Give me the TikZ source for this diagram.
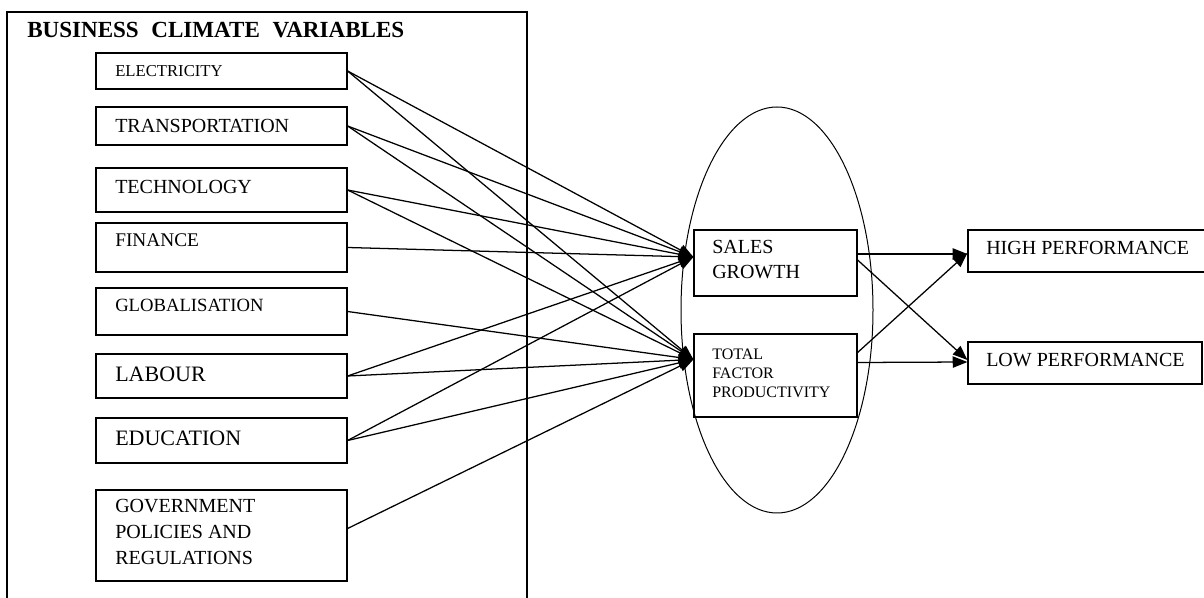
\documentclass[tikz,border=0pt]{standalone}
\usepackage{fontspec}
\setmainfont{Liberation Serif}
\usetikzlibrary{arrows.meta}
\usetikzlibrary{fit}
\usetikzlibrary{calc}

\begin{document}
\begin{tikzpicture}[x=0.75pt,y=0.75pt,yscale=-1,xscale=1,
  box/.style={draw, line width=0.9pt, inner sep=0pt},
  lbl/.style={anchor=base west, inner sep=0pt, align=left},
  link/.style={line width=0.95pt, -{Triangle[length=11pt,width=8.5pt]}}]
  \useasboundingbox (0,0) rectangle (1204,598); %page is 1204 x 598, frame runs off the bottom

  %Shape: Frame
  \draw [line width=0.9pt] (7,610) -- (7,12) -- (527,12) -- (527,610);
  % Text Node
  \node [lbl, font=\bfseries\fontsize{17.3}{20}\selectfont] (title) at (27,38) {BUSINESS\hspace{9.5pt}CLIMATE\hspace{9.5pt}VARIABLES};

  %Shape: Rectangle
  \node [box, fit={(96,53) (347,89)}] (elec) {};
  \node [box, fit={(96,107) (347,145)}] (trans) {};
  \node [box, fit={(96,168) (347,212)}] (tech) {};
  \node [box, fit={(96,223) (347,272)}] (fin) {};
  \node [box, fit={(96,288) (347,335)}] (glob) {};
  \node [box, fit={(96,354) (347,398)}] (labour) {};
  \node [box, fit={(96,418) (347,463)}] (edu) {};
  \node [box, fit={(96,490) (347,581)}] (gov) {};

  % Text Node (multi-line ones sit on their last baseline)
  \node [lbl, font=\fontsize{12.5}{15}\selectfont] (elec-t) at (115,77) {ELECTRICITY};
  \node [lbl, font=\fontsize{15}{18}\selectfont] (trans-t) at (115,133) {TRANSPORTATION};
  \node [lbl, font=\fontsize{15}{18}\selectfont] (tech-t) at (115,194) {TECHNOLOGY};
  \node [lbl, font=\fontsize{14.5}{18}\selectfont] (fin-t) at (115,247) {FINANCE};
  \node [lbl, font=\fontsize{14}{18}\selectfont] (glob-t) at (115,312) {GLOBALISATION};
  \node [lbl, font=\fontsize{16.5}{20}\selectfont] (labour-t) at (115,382) {LABOUR};
  \node [lbl, font=\fontsize{16.5}{20}\selectfont] (edu-t) at (115,446) {EDUCATION};
  \node [lbl, font=\fontsize{15}{19.5}\selectfont] (gov-t) at (115,565) {GOVERNMENT\\POLICIES AND\\REGULATIONS};

  %Shape: Ellipse
  \draw [line width=0.75pt] (777,310) ellipse (96 and 203);

  %Shape: Rectangle
  \node [box, fit={(694,230) (857,296)}] (sales) {};
  \node [box, fit={(694,334) (857,417)}] (tfp) {};
  \node [box, fit={(968,230) (1214,272)}] (high) {};
  \node [box, fit={(968,342) (1202,384)}] (low) {};

  % Text Node
  \node [lbl, font=\fontsize{15}{18.75}\selectfont] (sales-t) at (712,279) {SALES\\GROWTH};
  \node [lbl, font=\fontsize{12}{14.6}\selectfont] (tfp-t) at (712,398) {TOTAL\\FACTOR\\PRODUCTIVITY};
  \node [lbl, font=\fontsize{15}{18}\selectfont] (high-t) at (986,255) {HIGH PERFORMANCE};
  \node [lbl, font=\fontsize{15}{18}\selectfont] (low-t) at (986,367) {LOW PERFORMANCE};

  \coordinate (sg-in) at ($(sales.west)+(0,-6)$);
  \coordinate (tfp-in) at ($(tfp.west)+(0,-16)$);

  %Straight Lines
  \draw [link] (elec.east) -- (sg-in);
  \draw [link] (elec.east) -- (tfp-in);
  \draw [link] (trans.east) -- (sg-in);
  \draw [link] (trans.east) -- (tfp-in);
  \draw [link] (tech.east) -- (sg-in);
  \draw [link] (tech.east) -- (tfp-in);
  \draw [link] (fin.east) -- (sg-in);
  \draw [link] (glob.east) -- (tfp-in);
  \draw [link] (labour.east) -- (sg-in);
  \draw [link] (labour.east) -- (tfp-in);
  \draw [link] (edu.east) -- (sg-in);
  \draw [link] (edu.east) -- (tfp-in);
  \draw [link] ($(gov.east)+(0,-7)$) -- (tfp-in);

  %Straight Lines
  \draw [link] ($(sales.east)+(0,-9)$) -- ($(high.west)+(0,3)$);
  \draw [link] ($(sales.east)+(0,-3)$) -- ($(low.west)+(0,-3)$);
  \draw [link] ($(tfp.east)+(0,-23)$) -- ($(high.west)+(0,2)$);
  \draw [link] ($(tfp.east)+(0,-13)$) -- ($(low.west)+(0,-1)$);
\end{tikzpicture}
\end{document}
